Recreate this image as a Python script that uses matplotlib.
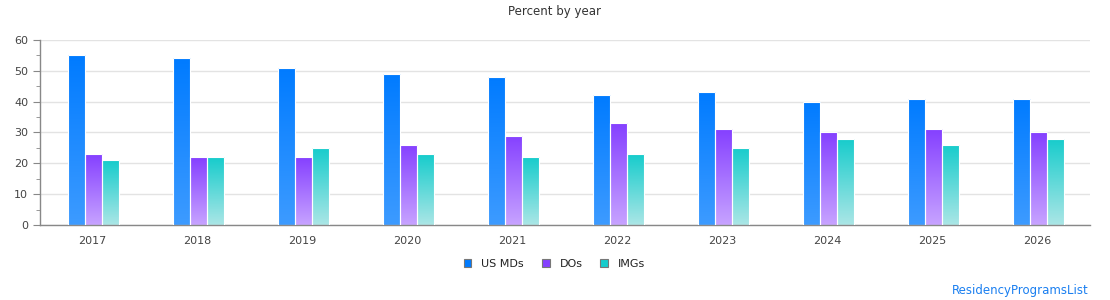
import numpy as np
import matplotlib
matplotlib.use("Agg")
import matplotlib.pyplot as plt
from matplotlib.colors import LinearSegmentedColormap

years = [2017, 2018, 2019, 2020, 2021, 2022, 2023, 2024, 2025, 2026]
us_mds = [55, 54, 51, 49, 48, 42, 43, 40, 41, 41]
dos = [23, 22, 22, 26, 29, 33, 31, 30, 31, 30]
imgs = [21, 22, 25, 23, 22, 23, 25, 28, 26, 28]

series = [
    ("US MDs", us_mds, "#007bff", "#3d9bff"),
    ("DOs", dos, "#8540ff", "#c7a3ff"),
    ("IMGs", imgs, "#16cccc", "#abe6e6"),
]

fig = plt.figure(figsize=(11.1, 3.0), dpi=100)
ax = fig.add_axes([0.036, 0.25, 0.946, 0.6167])

x = np.arange(len(years))
w = 0.162
grad = np.linspace(0, 1, 256).reshape(-1, 1)

for i, (name, vals, top, bottom) in enumerate(series):
    cmap = LinearSegmentedColormap.from_list(name, [bottom, top])
    bars = ax.bar(x + (i - 1) * w + 0.01, vals, width=w, color=top,
                  edgecolor="white", linewidth=0.8, label=name, zorder=2)
    for b in bars:
        bx, by = b.get_x(), b.get_y()
        bw, bh = b.get_width(), b.get_height()
        im = ax.imshow(grad, cmap=cmap, origin="lower", aspect="auto",
                       extent=[bx, bx + bw, by, by + bh], zorder=2.5)
        im.set_clip_path(b)
    # edges drawn above gradients
    for b in bars:
        ax.bar(b.get_x() + b.get_width() / 2, b.get_height(), width=b.get_width(),
               color="none", edgecolor="white", linewidth=0.8, zorder=3)

ax.set_xlim(-0.5, len(years) - 0.5)
ax.set_ylim(0, 60)
ax.set_xticks(x)
ax.set_xticklabels([str(y) for y in years])
ax.set_yticks(range(0, 61, 10))
ax.set_yticks(range(5, 60, 10), minor=True)

ax.grid(axis="y", color="#e3e3e3", linewidth=1, zorder=0)
ax.set_axisbelow(True)
for s in ("top", "right"):
    ax.spines[s].set_visible(False)
for s in ("left", "bottom"):
    ax.spines[s].set_color("#888888")
    ax.spines[s].set_linewidth(1)
ax.tick_params(axis="both", colors="#888888", labelcolor="#444444", labelsize=8)
ax.tick_params(axis="x", length=0, pad=8)
ax.tick_params(axis="y", which="major", length=5)
ax.tick_params(axis="y", which="minor", length=3, color="#888888")

fig.text(0.5, 0.96, "Percent by year", ha="center", va="center",
         fontsize=8.5, color="#333333")

leg = ax.legend(loc="upper center", bbox_to_anchor=(0.49, -0.13), ncol=3,
                frameon=False, fontsize=8, handlelength=0.7, handleheight=0.7,
                columnspacing=1.6, handletextpad=0.9, labelcolor="#222222")
for h, (_, _, top, _) in zip(leg.legend_handles, series):
    h.set_facecolor(top)
    h.set_edgecolor("#777777")
    h.set_linewidth(0.8)

fig.text(0.981, 0.033, "ResidencyProgramsList", ha="right", va="center",
         fontsize=8.5, color="#1a7ff0")

fig.savefig("out.png", dpi=100)
